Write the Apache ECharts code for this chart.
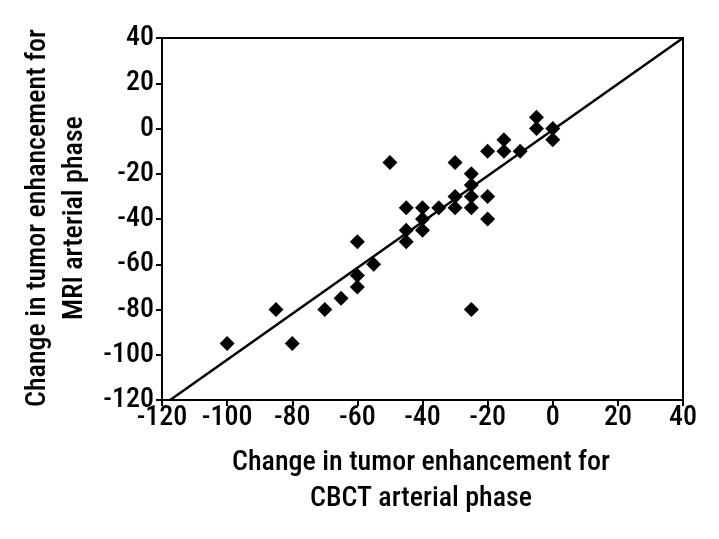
<!DOCTYPE html>
<html><head><meta charset="utf-8">
<script src="https://cdn.jsdelivr.net/npm/echarts@6/dist/echarts.min.js"></script>
<style>html,body{margin:0;padding:0;background:#fff}#c{width:719px;height:539px}</style>
</head><body><div id="c"></div>
<script>
var cbct = [-100,-85,-80,-70,-65,-60,-60,-60,-55,-50,-45,-45,-45,-40,-40,-40,-35,-30,-30,-30,-25,-25,-25,-25,-25,-20,-20,-20,-15,-15,-10,-5,-5,0,0];
var mri  = [-95,-80,-95,-80,-75,-50,-65,-70,-60,-15,-35,-45,-50,-35,-40,-45,-35,-15,-30,-35,-20,-25,-30,-35,-80,-10,-30,-40,-5,-10,-10,5,0,0,-5];
var lineX = [-117.5, 40];
var lineY = [-120, 40];
var xTicks = [-120,-100,-80,-60,-40,-20,0,20,40];
var yTicks = [-120,-100,-80,-60,-40,-20,0,20,40];
var xTitle = ['Change in tumor enhancement for','CBCT arterial phase'];
var yTitle = ['Change in tumor enhancement for','MRI arterial phase'];

var FONT = '"Roboto Condensed","DejaVu Sans Condensed",sans-serif';
var FW = 500;
var chart = echarts.init(document.getElementById('c'));
var pts = cbct.map(function(x,i){return [x, mri[i]];});
var ln = lineX.map(function(x,i){return [x, lineY[i]];});
var axisCommon = function(){return {
  type:'value',interval:20,
  axisLine:{show:true,onZero:false,lineStyle:{color:'#000',width:2}},
  axisTick:{show:true,length:6,lineStyle:{color:'#000',width:2}},
  splitLine:{show:false},
  axisLabel:{color:'#000',fontSize:28,fontFamily:FONT,fontWeight:FW}
};};
var xa = axisCommon(); xa.min = xTicks[0]; xa.max = xTicks[xTicks.length-1]; xa.axisLabel.margin = 4;
var ya = axisCommon(); ya.min = yTicks[0]; ya.max = yTicks[yTicks.length-1]; ya.axisLabel.margin = 8;
chart.setOption({
  animation:false,
  grid:{left:162,right:36,top:38,bottom:139,show:true,borderColor:'#000',borderWidth:2,backgroundColor:'transparent'},
  xAxis:xa,
  yAxis:ya,
  graphic:[
    {type:'text',x:421,y:445,style:{text:xTitle[0]+'\n'+xTitle[1],fill:'#000',font:FW+' 28px '+FONT,align:'center',verticalAlign:'top',lineHeight:36}},
    {type:'text',x:56,y:218,rotation:Math.PI/2,style:{text:yTitle[0]+'\n'+yTitle[1],fill:'#000',font:FW+' 28px '+FONT,align:'center',verticalAlign:'middle',lineHeight:37}}
  ],
  series:[
    {type:'line',data:ln,symbol:'none',lineStyle:{color:'#000',width:2.5},z:2,silent:true},
    {type:'scatter',data:pts,symbol:'diamond',symbolSize:15,itemStyle:{color:'#000',opacity:1},z:3}
  ]
});
</script></body></html>
